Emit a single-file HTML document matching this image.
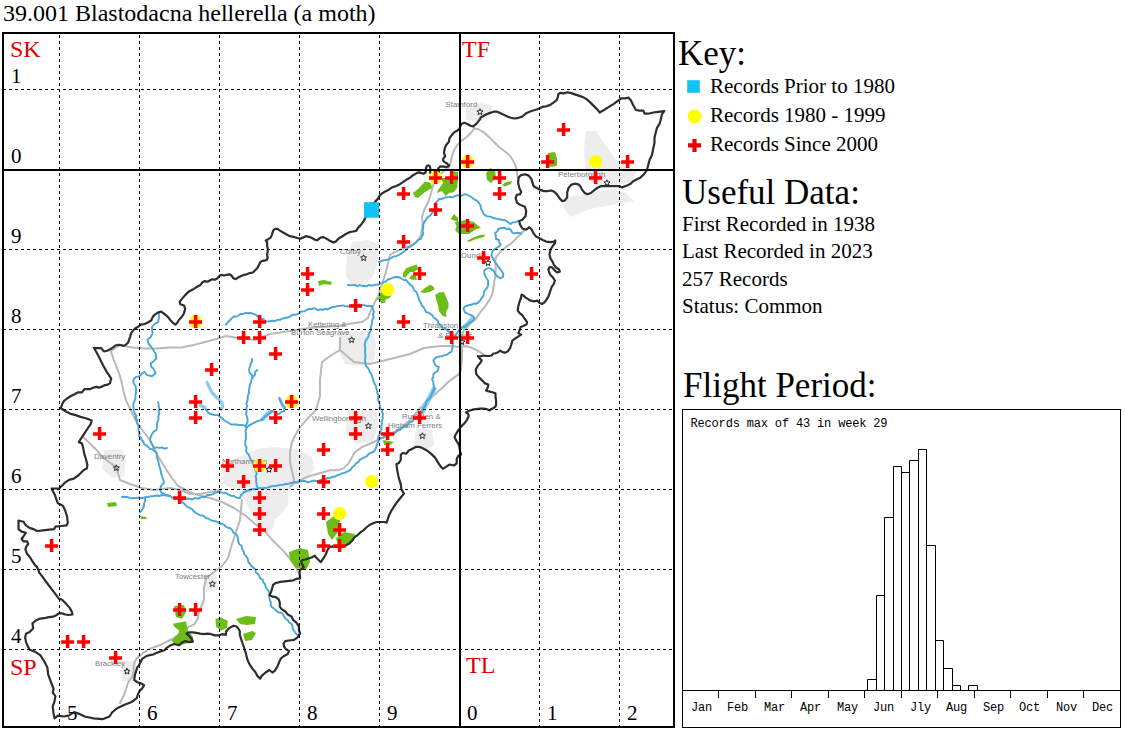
<!DOCTYPE html>
<html><head><meta charset="utf-8"><title>39.001 Blastodacna hellerella</title><style>
html,body{margin:0;padding:0;background:#fff}
body{width:1125px;height:731px;overflow:hidden;position:relative;font-family:"Liberation Serif",serif;color:#000}
.t{position:absolute;white-space:nowrap;line-height:1;margin:0}
.s21{font-size:21px}.s35{font-size:35px}.s24{font-size:24px}
.red{color:#e00000}
.m{font-family:"Liberation Mono",monospace;font-size:12px;letter-spacing:-0.17px;position:absolute;white-space:nowrap;line-height:1}
svg{position:absolute;left:0;top:0}
</style></head><body>
<svg width="1125" height="731" viewBox="0 0 1125 731">
<polygon points="466,108 480,103 492,106 490,116 478,122 466,120" fill="#ededed"/>
<polygon points="586,131 596,131 606,146 616,160 630,165 636,172 632,182 610,186 596,186 586,176 584,150" fill="#ededed"/>
<polygon points="570,197 590,193 614,189 626,193 634,201 622,203 590,209 570,217 562,205" fill="#ededed"/>
<polygon points="352,242 368,240 378,244 378,262 372,278 362,286 352,286 346,276 347,256" fill="#ededed"/>
<polygon points="340,332 372,330 376,344 374,362 360,366 345,364 338,350" fill="#ededed"/>
<polygon points="348,410 376,410 378,428 372,442 356,444 346,432" fill="#ededed"/>
<polygon points="416,428 432,430 434,446 424,450 414,446" fill="#ededed"/>
<polygon points="223.6,471 225,465 234,459 249,453 259.7,448.5 274.8,447 288.3,448.5 300.4,450 312.4,457.6 314,469.6 308,477 294.3,484.7 288.3,492.2 288.3,504.3 282.3,513.3 274.8,519.3 273.2,528.4 267.2,532.9 259.7,531.4 255.2,519.3 247.6,505.8 243.1,498.3 234,489.2 225,484.7 222,478.7" fill="#ededed"/>
<polygon points="104,450 122,449 126,460 124,476 112,478 102,468" fill="#ededed"/>
<polygon points="204,574 216,574 218,590 206,592" fill="#ededed"/>
<polygon points="120,661 136,661 136,681 122,681" fill="#ededed"/>
<polyline points="110.8,351.2 120,345 125,346.3 132.3,347.4 144.6,348.6 156.9,348.6 169.2,347.4 181.5,347.4 193.8,344.9 206.2,341.8 216,339 226,336 238,338 255,340 270,334 290,331 302,329 320,327 338,326 348,324 362,322 368,318" fill="none" stroke="#b9b9b9" stroke-width="2" stroke-linejoin="round" stroke-linecap="round"/>
<polyline points="368,318 370,312 374,304 378,296 382,284 386,272 388.8,260 390,255 393.8,252.5 401.2,249.4 408.5,246.3 413.5,243.8 418.4,240.2 420.8,235.2 422,229 422.7,222.9 422,216.8 424.5,209.4 428.2,202 430.7,194.6 433.2,184.8 436.5,179 440,174 444,171 448.3,167.7 450.2,164 451.4,159.1 452.6,154.2 454.5,149.2 456.9,145.5 461.8,140.6 466.8,137 471.7,132 474.2,128.3" fill="none" stroke="#b9b9b9" stroke-width="2" stroke-linejoin="round" stroke-linecap="round"/>
<polyline points="474.2,128.3 479,129.5 484,132.6 488.9,136.9 493.8,141.8 498.8,146.8 503.7,150.5 508.6,154.2 512.3,159.1 514.8,164 516.6,168.9 517.2,173.8 518,178" fill="none" stroke="#b9b9b9" stroke-width="2" stroke-linejoin="round" stroke-linecap="round"/>
<polyline points="525,229.7 517.5,237.2 510,244.6 507.8,245.5 500.2,252 495.8,257.5 495.2,261.9 495.8,268.4 495.2,276.1 493.6,286 492.5,293.6 489.2,300.2 484.8,306.7 480.5,312.2 475,320 472,322 464,330 461,337 462,344" fill="none" stroke="#b9b9b9" stroke-width="2" stroke-linejoin="round" stroke-linecap="round"/>
<polyline points="340,350 354,362 370,364 390,359 410,354 424,348 440,346 450,346 456.6,346.7 466.4,346.2 471.9,347.8 478.4,351.1 482.8,353.8" fill="none" stroke="#b9b9b9" stroke-width="2" stroke-linejoin="round" stroke-linecap="round"/>
<polyline points="462,346 462,358.8 461,369.7 458.8,374.1 454.4,377.4 450,380.6 442,388 424,404 410,420 398,430 386,436 374,442 362,447 354.6,452.4 348.5,463.5 343.5,468.4 337.4,470.2 330,470.2 324,472 310,476 300,480 290,486" fill="none" stroke="#b9b9b9" stroke-width="2" stroke-linejoin="round" stroke-linecap="round"/>
<polyline points="340,338 340,350 330,356 322,362 320,380 320,396 316,410 306,420 298,430 292,442 290,452 290,462 294,480 292,486" fill="none" stroke="#b9b9b9" stroke-width="2" stroke-linejoin="round" stroke-linecap="round"/>
<polyline points="110.8,351.2 113.8,359.8 116.8,367.3 119.8,375.6 122.1,383.9 123.7,392.3 126.2,400.9 129.9,408.3 136,421.2 142.2,430 150,440 154,448 158,456 164,466 172,478 178,486 182,488 194,494 210,498 222,502 234,508 246,516 255,524 265,531.6 271.6,539.2 278.1,545.8 284.7,552.4 290.2,559 295.6,566.6 298.9,573.1" fill="none" stroke="#b9b9b9" stroke-width="2" stroke-linejoin="round" stroke-linecap="round"/>
<polyline points="82.5,436.6 89.2,442.8 94.2,447.7 97.9,451.4 101.6,456.3 106.5,460 111.4,463.7 116.3,467.4 120,480 130,484 142,488 154,490 170,488 180,490 190,494 200,494 210,492 220,490" fill="none" stroke="#b9b9b9" stroke-width="2" stroke-linejoin="round" stroke-linecap="round"/>
<polyline points="242,500 240,520 236,532 232,544 228,558 222,566 214,572 206,578 204,588 204,600 199,612 197.7,619.4 194,624.3 187.8,627.4 180.4,633 174.3,637.9 166.9,641.6 159.5,645.3 149.6,649 143.5,652.7 137.3,657.6 134.9,661.3 133.6,666.2 133.6,671.1 132.4,676.1 128,683 124,695 120,703" fill="none" stroke="#b9b9b9" stroke-width="2" stroke-linejoin="round" stroke-linecap="round"/>
<polyline points="207,382.5 212.2,393 218,398.7 221.8,402.6 222.8,406.4 220.9,409.3" fill="none" stroke="#8ccbef" stroke-width="3.2" stroke-linejoin="round" stroke-linecap="round"/>
<polyline points="200.5,405.5 205,407.5" fill="none" stroke="#8ccbef" stroke-width="3.5" stroke-linejoin="round" stroke-linecap="round"/>
<polyline points="262.5,419 266,415.5 270,412" fill="none" stroke="#8ccbef" stroke-width="4.5" stroke-linejoin="round" stroke-linecap="round"/>
<polyline points="279.8,399 282,404 284,408.5" fill="none" stroke="#8ccbef" stroke-width="3" stroke-linejoin="round" stroke-linecap="round"/>
<polyline points="434,389 430.5,396 426,404 422.2,412" fill="none" stroke="#8ccbef" stroke-width="5" stroke-linejoin="round" stroke-linecap="round"/>
<polyline points="473,317.5 468,323 462,328" fill="none" stroke="#8ccbef" stroke-width="3.5" stroke-linejoin="round" stroke-linecap="round"/>
<polyline points="379,262 381.4,261 383.8,260.1 386.4,260 388.9,259.2 391.3,258 393.5,256.4 396.2,256.2 398.7,255 401.2,253.7 403.5,251.7 406,250 408.1,247.5 411,246.3 413.5,244.5 415.9,242.6 417.9,240.1 420.8,238.9 421.9,236.4 423.3,234 422.6,230.9 423.3,227.8 423.2,224.6 424.5,221.7 426.2,219.2 428.2,216.8 430.5,215.3 432,213 433,210.8 435,209.4 434.9,206.1 435.7,203 437.5,201.1 439,199 441.3,199.2 443.4,198.1 445.5,197.5 448,197.1 450.5,197 452.9,197.3 455,196 457.5,195.1 460,195.7 462.7,195.4 465,194 469,195.7 471.7,197.3 474,199.4 476.9,200.7 479,203 480.6,205.8 481,209 482.6,211.3 483.7,214 485.9,215.8 488.6,216.6 491.2,216.8 493.5,218 496,218.6 498.5,219 501.5,219.7 504.6,220 506.8,221.2 508.7,222.7 510.8,224 512.6,222.4 515,222.2 519,221" fill="none" stroke="#47a7da" stroke-width="1.9" stroke-linejoin="round" stroke-linecap="round"/>
<polyline points="521,233.5 517.5,232.8 513.7,233.4 511.9,232 510.8,230 509,228.5 506.4,229.1 504.6,227.7 501.5,228 498.5,229 497.3,231.5 495,233 495.9,235.9 496,239 499,240 499.1,242.5 500.7,244.4 499.1,246.4 496.9,247.7 494.6,249.2 492.5,251 492,253.2 491.4,255.3 492.6,257.5 493.6,259.7 495.8,263 498,266.3 499.7,268.4 501.3,270.6 503.4,274 502.9,277.2 500.2,278.3 496.9,276.1 494.7,272.8 493.6,270.6 490.3,268.4 487,268.4 484.3,270.6 484.3,274 485.9,277.2 488.1,280.5 488.1,284.9 487.5,287.3 485.9,289.2 484.3,291.2 483.8,293.6 483.3,296.1 481.6,298 480.3,300.5 478.3,302.4 476.4,303.7 474,303.5 472,304.5 469.8,305 467.6,305.5 465.2,306.3 463.5,308.2 464.8,312.3 467.6,313.5 470.3,315 472.7,315.9 474.4,317.8 473.4,320.1 471.7,321.9 469.2,322.6 467.6,324.6 465.2,326.7 462.1,327.4 459.9,329.3 458,331.5 456.8,333.7 455.3,335.6 453.9,337 452.9,339.6 452.5,342.4 452.8,345.1 452.5,347.9 451.2,352 448.9,353.1 447,354.7 444.3,355.4 441.6,356.1 438.8,356.6 436.1,357.5 433.4,360.2 434.7,364.3 436.4,366.2 438.8,367 437.5,371.2 435.4,372.4 433.4,373.9 433.3,376.8 432,379.4 433.4,381.9 433.4,384.8 434.7,388.9 432.7,391.3 432,394.4 430.6,396.3 429.7,398.4 427.9,400 426.3,401.7 426,404 424.9,405.9 423.7,407.8 422.6,409.7 422.2,412 420.4,414.3 418.2,416.2 416,418 413.6,419 412.4,421.5 409.7,422.1 408,424 406.4,426 403.8,426.7 401.8,428.2 400,430 397.6,430.7 395.7,432.2 394,434 391.3,434.7 388.8,435.8 386,436 383.2,437.6 380,438 378.9,440.3 377.9,442.7 376.8,445 375.6,448.7 374.3,451.1 371.9,452.4 369,453.7 366.9,456.1 364.4,457.3 362,458.5 359.7,459.9 358.2,462.2 355.9,463.5 354.4,465.7 352.2,467.2 350.9,469.6 348.5,470.9 346.5,471.9 344.5,472.9 342.3,473.3 339.3,474.7 336.2,475.8 334.2,476.8 331.9,476.9 330,478.2 327.4,478 325.1,479.6 322.5,479.7 320,480 317.6,481.1 314.9,480.7 312.3,480.7 310,482 307.3,482.2 304.7,480.9 302,481 299.7,481.7 297.3,482.6 294.7,481.8 292.4,482.9 290,483 287.8,484 285.4,484 283.2,484.7 280.9,484.9 278.6,485.2 276.3,485.7 274,486 271.6,486.2 269.4,487 267.1,487.7 264.8,488 262.4,488.3 260,488 257.5,488.5 255,489.2 252.4,489 250,490 247,491 244,492 242.4,493.8 240.7,495.5 240,498 236.8,497.7 234,496 231,495.8 228.5,494.6 226,493 223.3,492.9 220.7,492.2 218,492 215.2,492.6 212.8,494.2 210,495 207.3,495 205.2,497.3 202.3,496.7 200,498 197.5,498.7 194.9,497.9 192.6,499.5 190,499 187.2,498.5 184.6,499.2 182,500 179.5,498.5 176.7,498.5 174,498 171.8,497.5 170,496 167.4,494.9 164.7,495.4 162,495 159.4,496 156.6,495.5 154,496 151.3,496.3 148.7,496.7 146,497 143.6,497.8 141.3,498 138.8,497.5 136.4,497.9 134,498 131.5,498.4 129.2,497.7 126.8,497 124.4,496.8 122,497" fill="none" stroke="#47a7da" stroke-width="1.9" stroke-linejoin="round" stroke-linecap="round"/>
<polyline points="348,285 350.3,285.1 352.7,285.1 355,284.9 357.3,286.3 359.7,285 362,286 364.3,285.9 366.6,286.4 368.8,284.9 371.1,285.5 373.4,285.5 375.7,284.4 378,285 379.9,283.8 382.2,283.3 384,281.9 386.2,281.3 387.7,279.5 390,279 392.6,277.9 395.2,277 398,277 400.7,278 403.1,279.7 406,280 407.9,282.1 409.7,284.3 412,286 413.4,287.9 414,290.2 416.2,291.7 417.1,293.8 418,296 418.7,298.6 419.6,301.1 421.1,303.5 422,306 423.9,307.6 425,309.8 426,312 428.2,312.6 430.2,313.7 432,315 433.7,317.5 436.1,319.2 437.9,320.7 438.3,323.2 440.2,324.6 441.8,327.1 444.3,328.7 446.8,329.5 448.4,331.5 452.5,332.8" fill="none" stroke="#47a7da" stroke-width="1.9" stroke-linejoin="round" stroke-linecap="round"/>
<polyline points="225.8,324.6 227.4,323 228.8,321.2 230.5,319.7 232,318 233.9,316.5 236.5,316.5 238.7,315.5 240.6,314 243.1,314 245.4,312.9 248,313.3 250.4,313 252.7,313.6 255,314.3 257,315.6 258.6,317.6 260.5,319 263.4,319 265,321 267.5,321.6 270,321.2 272.5,320.8 275,321 277.4,319.9 280,319.8 282.4,318.7 284.9,318 287.4,317.5 289.9,316.7 292.1,315 294.7,314.8 297,314.1 299.3,313.3 301,311.5 303.7,311.6 306,310.4 308.3,308.9 311,309 313.4,308.3 315.7,308.7 317.9,310.2 320.3,309.3 322.6,309.8 325,309 327.7,309.3 330,308 332.6,307 335.4,306.7 338,306 340.4,305.9 342.8,305.3 345.2,306.1 347.6,306.6 350,306 352.4,305.2 354.8,305.1 357.2,305.3 359.5,304.4 362,305 364.5,305.2 366.9,306 369.5,306 372,306 372.9,309 374,312 372.9,314.4 373.6,317.1 372.4,319.5 372,322 371.7,324.5 370.8,327 371.1,329.6 370,332 368.6,333.8 368.6,336.3 367.5,338.3 366,340 365.2,342.4 364.7,344.9 365.4,347.5 365,350 365.1,352.5 365.4,355 365.4,357.5 365,360 365.3,363 366,366 367.7,367.7 369,369.7 369.7,372 371.3,373.7 372,376 372.8,378.6 373.5,381.2 374.6,383.7 376,386 376.4,388.4 377.1,390.8 377.3,393.2 378.4,395.5 378,398 378.1,400.6 379.3,402.9 379.8,405.4 380,408 381.6,409.7 382.1,412 383,414 382.6,416.5 382.7,419 381.6,421.4 382,424 381.2,426.4 381.4,429.1 380.5,431.5 380,434 378.3,436.8 378,440" fill="none" stroke="#47a7da" stroke-width="1.9" stroke-linejoin="round" stroke-linecap="round"/>
<polyline points="158.8,312.9 158.9,315.7 158.8,318.5 158.2,322.2 154.5,324 152,327 152.2,330.1 152.6,333.2 150.8,337 147.7,339.4 147.9,342.4 149.5,344.9 151.4,347.3 153.2,349.8 154.4,351.7 155.7,353.5 155.9,356 156.3,358.5 153.2,361.5 150.8,363.4 151.4,367.1 153.4,368.6 154.5,370.8 155.7,373.2 153.8,374.7 152,376.3 149.6,375.5 147.1,375.1 144.6,372 142.2,373.2 139.7,376.3 136,376.9 133.5,379.4 133.4,381.9 134.2,384.3 135.7,386.5 136,389.2 136,392.3 135.4,395.4 135.5,398.6 134.2,401.5 133.3,404.5 133.5,407.7 133.8,410.8 134.8,413.8 136.3,415.6 135.6,418.2 137.2,420 137.1,423.3 138.5,426.2 138.4,428.7 138.6,431.1 139.5,433.5 139,436 140.9,437.6 141.5,440 143.4,441.6 144,444 146.3,445.3 148.3,447 150,449 152.4,449.3 154,450.9 156,452 156.8,454.6 156.8,457.5 158,460 158.6,462.7 159.1,465.4 160,468 160.7,470.7 161.1,473.4 162,476 163.1,479 164,482 162.8,484.2 161,486 160,490 161.4,492.6 164,494 166.7,495.8 170,496" fill="none" stroke="#47a7da" stroke-width="1.9" stroke-linejoin="round" stroke-linecap="round"/>
<polyline points="158.2,402.2 158.6,404.4 158.7,406.7 159.4,408.9 158.7,411.3 159.2,413.9 158.2,416.3 158.6,418.9 157.5,421.3 156.9,423.7 157,426.9 156.3,430 153.8,431.6 152,434 150.7,436.9 150,440 150.8,442.1 151.9,444 152.8,446.1 154,448 156.6,447.4 159.2,447.9 161.8,447.4 164.4,448.7 167,448" fill="none" stroke="#47a7da" stroke-width="1.9" stroke-linejoin="round" stroke-linecap="round"/>
<polyline points="205.5,409.3 207.3,411 208.4,413.1 212.2,414.5 215.1,415.1 218,415 220.4,417 223.7,419.8 225.9,421.5 228.5,422.7 230.7,424.2 233.3,424.6 236.2,424.3 239,425.1 241.9,424.9 244.8,425.6 246.7,427.5" fill="none" stroke="#47a7da" stroke-width="1.9" stroke-linejoin="round" stroke-linecap="round"/>
<polyline points="252,359 252.1,361.4 250.6,363.3 250.4,365.6 249.5,367.7 249.1,370 249.6,372.7 251.7,374.6 252.5,377.2 251.5,379.6 251.3,382.2 249.8,384.6 249.6,387.2 248.9,389.7 249,392.4 248.2,394.9 247.6,397.1 247.7,399.4 247.2,401.6 246.4,403.8 247.2,406.2 246.2,408.3 246.8,410.8 245.9,413.5 246.7,416 247.4,418.8 247.7,421.7 245.8,425.6 246.3,428.4 245.4,431.2 246,434 245.6,436.2 246.2,438.4 245.4,440.6 245.3,442.8 245.4,445.3 246.6,447.7 246.1,450.3 246.7,452.7 248.7,454.7 249.8,457.3 251,459.8 253,461.8 254.2,464.3 255.2,467 254.9,469.5 256.3,471.6 256.6,474 255.6,476.3 256.3,478.7 256,481 256.5,483.4 256.7,485.8 258,488" fill="none" stroke="#47a7da" stroke-width="1.9" stroke-linejoin="round" stroke-linecap="round"/>
<polyline points="257.3,370 255,372 254.8,375.3 252.5,377.2" fill="none" stroke="#47a7da" stroke-width="1.9" stroke-linejoin="round" stroke-linecap="round"/>
<polyline points="246.7,427.5 248.5,425.9 250.6,424.6 253.4,423.1 256.3,421.7 259.1,420.6 262,419.8 263.6,418.1 265.2,416.5 267,415 269.7,413.2 272,411 274.6,411.7 276.8,413.3 279.3,414.1 281.3,411.9 284.1,411.2 285,407.4 282.8,405.2 281.2,402.6 280,400.3 279.3,397.8" fill="none" stroke="#47a7da" stroke-width="1.9" stroke-linejoin="round" stroke-linecap="round"/>
<polyline points="182,502 184,503.5 185.7,505.4 187.5,507.1 190,508 192.2,509.2 193.7,511.4 195.8,512.8 198,514 199.9,515.2 202.3,515.4 204.4,516.3 206,518 208.7,518.8 211.2,520.4 214,521 216.8,521.6 219.3,523 222,524 224.1,524.7 225.7,526.5 227.7,527.7 230,528 232.1,529.9 233.4,532.6 236,534 237.7,536.8 238,540 238.5,542.2 239.4,544.3 241.5,545.7 242,548 242.7,550.2 243.9,552 244.3,554.3 246,556 247.4,557.8 247.9,560 248.4,562.3 250,564 251.4,566.1 253.5,567.8 255.4,569.6 255.8,572.5 258,574 259.4,576 260.1,578.5 262.7,579.7 263.2,582.3 265,584 265.6,586.4 266.6,588.7 268.3,590.6 269.7,593.2 269.4,596.1 269.3,598 269.9,600.4 270.9,602.8 270.6,605.4 271.9,607.3 274,608.5 275.5,610.3 278.3,612.3 281.6,612.8 283,614.5 284.1,616.5 285.6,618.7 287.8,620.2 289.2,622.5 291.5,623.9 292.5,626.2 292.7,628.8 293.9,630.7 295.2,632.5 296.6,634.4 298.9,634.9" fill="none" stroke="#47a7da" stroke-width="1.9" stroke-linejoin="round" stroke-linecap="round"/>
<polyline points="145,498 145.2,500.7 144.1,503.3 144,506 142.9,508.2 141.8,510.3 140,512" fill="none" stroke="#47a7da" stroke-width="1.9" stroke-linejoin="round" stroke-linecap="round"/>
<polygon points="413,193 418,189 425,181.5 431,183 432,188 425,192 418,198 415,197" fill="#6cbd17"/>
<polygon points="441,178 443,183 438,190 437,193 442,191 445.5,196 449,193 454,192 457,188 458,180 458,172 454,171 450,178" fill="#6cbd17"/>
<polygon points="486,173.5 490,168 495,170 496,178 491,183 487,180" fill="#6cbd17"/>
<polygon points="502,185 506,182 512,181 511,184 505,186.5" fill="#6cbd17"/>
<polygon points="450.5,219 454,214 458,218 458,224 455,230 459,234 469,234 476,229 481,228 476,224 470,221.5 463,224" fill="#6cbd17"/>
<polygon points="467,241 472,238 480,235 485,234.5 484,237 476,239 469,242" fill="#6cbd17"/>
<polygon points="548,153 555,152 557,158 557,166 550,167 546,160" fill="#6cbd17"/>
<polygon points="402.6,276.8 403.5,272 406.4,268.2 411.2,266.3 416.9,264.4 417.9,269.2 414.1,272 410.2,272 407.4,274.9 405.4,277.8" fill="#6cbd17"/>
<polygon points="409.3,278.7 411.2,274.9 416,275.9 416.9,279.7 412.1,279.7" fill="#6cbd17"/>
<polygon points="318,281 324,280 332,282 331,285 324,284 319,286" fill="#6cbd17"/>
<polygon points="379.6,293.1 383.4,291.2 389.2,296 392,295 389.2,297.9 385.3,299.8 385.3,302.7 381.5,303.6 379.6,299.8 376.7,299.8 379.6,296" fill="#6cbd17"/>
<polygon points="420.3,292.1 424.6,288.3 430.3,284.5 433.2,286.4 434.7,289.3 429.4,292.1 423.6,293.1" fill="#6cbd17"/>
<polygon points="435.1,295 439,292.6 443.8,292.1 445.7,296 448.5,302.7 448.5,307.5 445.7,312.3 446.6,317 442.8,316.1 439,311.3 438,305.6 436.1,298.9" fill="#6cbd17"/>
<polygon points="455,222 465,220 474,222 479,228 470,232 458,231" fill="#6cbd17"/>
<polygon points="383,440 389,441 394,442 390,445 384,445" fill="#6cbd17"/>
<polygon points="107,503 116,502 117,506 108,507" fill="#6cbd17"/>
<polygon points="140,516 146,517 147,519 141,519" fill="#6cbd17"/>
<polygon points="174,606 184,605 186,612 182,619 176,617" fill="#6cbd17"/>
<polygon points="173,623.7 186,621.2 187.8,630.5 192.8,636.6 193.4,641.6 189,642.8 180.4,645.3 174.3,644 171.8,640.3 178,634.2 179.2,630.5 174.3,626.8" fill="#6cbd17"/>
<polygon points="215.5,619 221,617.5 227.9,621 227,628 221,630.5 216,627" fill="#6cbd17"/>
<polygon points="236,619 246,616 256,617 255,624 247,625 240,624" fill="#6cbd17"/>
<polygon points="243,634 252,631 256,633 252,640 245,641" fill="#6cbd17"/>
<polygon points="326,522 334,516 340,520 338,532 332,540 328,534" fill="#6cbd17"/>
<polygon points="336,538 344,532 355,534 352,542 344,546 338,546" fill="#6cbd17"/>
<polygon points="289,552 300,548 308,550 310,562 306,570 296,568 290,560" fill="#6cbd17"/>
<path d="M93.9,347.8 L97.3,348.2 L101.4,348.2 L102.6,350 L104.1,351.5 L107.1,350.8 L110.1,349.3 L113.1,347.4 L115.3,345.5 L118.3,344.8 L121.4,345.2 L123.6,345.9 L125.9,344.8 L128.1,342.5 L129.2,339.5 L130.3,336.3 L131.1,333.2 L132.9,330.8 L135.4,328.3 L138.5,326.5 L140.9,324.6 L144.6,324 L148.3,322.2 L151.4,320.3 L152.6,317.2 L154.5,314.8 L158.2,312.3 L161.2,311.7 L163.7,313.5 L166.2,315.4 L168.6,317.8 L170.5,320.3 L172.9,322.8 L175.4,324.6 L177.2,322.8 L179.1,319.7 L181.5,317.2 L184,313.5 L185.2,308.6 L184,305.5 L180.3,304.3 L179.7,301.8 L181.5,299.4 L185.2,295.1 L188.9,291.4 L193.8,288.9 L198.8,285.8 L200,285.4 L202.5,282.3 L204.9,281.1 L207.4,281.7 L209.8,280.5 L212.3,279.2 L214.8,279.8 L217.2,278.6 L219.1,276.2 L220.9,274.9 L224,275.5 L226.5,274.9 L229.5,274.3 L231.4,275.5 L233.2,278 L235.7,279.2 L238.2,277.4 L240.6,276.2 L243.7,274.9 L246.8,274.3 L249.8,273.1 L252.9,272.5 L255.4,270 L257.8,267.5 L259.1,264.5 L260.3,262 L262.8,260.8 L266.5,260.2 L267.7,257.7 L267.1,254.6 L267.7,251.5 L267.7,248.5 L267.1,245.4 L267.1,242.3 L265.8,240.5 L268.3,239.2 L270.8,237.4 L272,234.3 L273.2,230.6 L275.1,228.8 L277.5,228.8 L280,230.6 L283.1,232.5 L286.2,234.3 L289.8,236.2 L293.5,236.8 L297.2,238 L300.3,238.6 L303.4,237.4 L305.8,236.2 L308.9,236.8 L312,238 L315.1,239.8 L317.5,240.2 L320.5,237.7 L323.6,237.1 L326.7,238.9 L329.8,240.8 L333.5,242.6 L335.9,241.4 L339,238.3 L342.1,236.5 L345.8,234 L349.5,232.2 L353.2,231.5 L356.2,230.9 L358.1,227.8 L360.5,225.4 L362.4,222.9 L364.2,220.5 L364.8,218.6 L370,210 L375.3,201.4 L377.8,198.9 L379.6,195.8 L382.1,193.4 L385.2,191.5 L388.8,189.7 L392.5,187.2 L396.2,186 L399.9,184.2 L403.6,181.7 L407.3,179.2 L410.4,177.4 L413.5,174.9 L415,174.2 L417.1,172.8 L419.3,172.4 L421.4,173.1 L423.5,173.8 L425.3,172.8 L426,170.6 L426,167.8 L427.1,165.7 L428.5,165.3 L429.9,166.4 L430.3,168.5 L429.9,170.6 L430.3,172.8 L431,174 L435,174.5 L439,173 L438.8,171 L438.1,168.5 L439.9,166.7 L442.7,166.4 L445.6,167.1 L448.4,166.4 L449.1,165.3 L447,163.5 L444.5,162.1 L443.1,160.3 L443.4,158.2 L445.2,156.4 L444,152.9 L444.6,149.2 L445.8,145.5 L448.9,141.8 L449.5,138.2 L451.4,135.7 L453.8,132.6 L456.9,130.8 L459.4,128.9 L461.2,124 L464.3,122.8 L467.4,124 L470.5,125.8 L472.9,126.5 L475.4,124.6 L477.8,122.2 L479.7,119.7 L480.9,117.2 L483.4,116 L486.5,114.2 L490.2,112.9 L493.8,111.7 L496.9,111.7 L500,112.9 L503.7,114.8 L507.4,116.6 L511.1,117.8 L514.8,118.5 L518.5,117.8 L522.2,116.6 L525.8,113.5 L529.5,111.7 L533.2,110.5 L535,110 L538.7,108.8 L542.4,106.9 L546.1,106.3 L549.8,105.1 L553.5,102.6 L556.6,100.2 L557.8,97.1 L558.4,94 L560.2,92.8 L563.9,93.4 L567.6,92.2 L572,93.4 L575.6,94.6 L579.3,95.9 L583,97.1 L586.1,98.9 L589.2,101.4 L591.7,103.9 L594.7,106.9 L597.2,109.4 L599.7,112.5 L604,110 L608.9,106.9 L613.8,103.9 L618.8,100.2 L621.2,98.3 L624.9,98.3 L628.6,97.7 L631.1,100.8 L633.5,105.7 L636,110 L639.7,110.6 L643.4,110.6 L644.6,113.7 L648.3,113.7 L653.2,112.5 L658.2,111.9 L664.3,111.2 L661.9,114.3 L660.6,120.5 L659.4,124.2 L656.9,127.9 L655.7,132.8 L654.5,137.7 L654.5,142.7 L653.2,148.8 L652,155 L649.5,159.9 L648.3,164.8 L647.1,169.8 L644.4,173.7 L640.7,177.4 L636.9,179.3 L633.2,181.2 L630.7,183.7 L627,185.5 L622,187.4 L619.5,186.2 L615.8,186.2 L612,186.2 L608.3,186.2 L604.6,186.2 L600.8,186.2 L597.1,188 L594.6,189.9 L590.9,193 L587.2,194.2 L584.7,193 L582.2,189.9 L580.3,186.2 L578.4,184.3 L574.7,183.7 L571,184.9 L568.5,188 L567.2,192.4 L567.2,197.4 L564.8,200.5 L562.3,201.1 L559.8,198.6 L557.3,194.9 L554.2,191.8 L551.1,190.5 L547.3,191.1 L543.6,191.1 L540.5,189.9 L536.8,188 L533.6,186.2 L532.4,182.4 L531.2,178.7 L528.7,175.6 L524.9,174.3 L521.2,175 L518.7,177.4 L518.1,182.4 L519.3,188 L521.2,191.8 L520,194.2 L516.8,194.9 L515.6,198 L516.8,202.3 L520,204.8 L524.9,206.7 L526.2,211 L525.6,216 L522.4,219.8 L519.3,221 L520,224.7 L522.4,228.5 L526.2,229.7 L529.3,227.2 L531.8,229.7 L533.6,233.4 L536.1,236.6 L539.9,238.4 L542.8,240 L546.1,241.6 L550.5,242.2 L553.8,241.6 L555.4,240.5 L554.9,243.3 L552.7,246 L550.5,249.8 L549.4,254.2 L550.5,258.6 L552.7,261.9 L553.8,264.6 L556,267.5 L559.2,269.5 L559.8,271.7 L557,272.3 L554.9,270.6 L551.6,267 L549.4,267.4 L548.3,269.5 L549.4,272.8 L550.5,275 L552.7,277.2 L554.9,280.5 L553.8,283.8 L551.6,287 L550.5,290.3 L549.4,293.6 L548.3,296.9 L546.1,300.2 L543.9,302.9 L541.7,304 L539.6,302.9 L537.4,300.7 L534.1,301.3 L530.8,300.7 L528.1,299.1 L525.3,297.4 L523.1,295.3 L521.5,294.7 L521,298 L519.3,302.4 L518.2,306.7 L517.7,310.6 L519.9,313.3 L522.2,315 L524.4,318.3 L527.1,322.1 L526.6,324.3 L523.3,325.9 L520.6,327 L519.5,330.3 L518.4,333.1 L521.1,334.7 L517.8,336.9 L515.1,338.5 L512.4,340.7 L511.3,344.5 L510.2,347.8 L508,351.1 L505.3,352.7 L502.5,352.2 L500.3,350.6 L498.1,352.2 L495.4,353.3 L493.2,353.8 L491.6,355.5 L488.8,356 L486.1,356 L483.9,355.5 L481.7,356 L479,356.6 L477.9,356 L479.5,358.2 L481.7,360.4 L480.1,363.1 L477.4,366.4 L475.7,369.7 L476.3,374.1 L479,377.4 L482.3,380.6 L485,383.4 L488.3,384.5 L487.7,387.8 L486.1,390.5 L487.9,391.1 L492.3,392.2 L495.5,393.3 L495.5,396.6 L496.1,401 L496.1,405.3 L494.5,407.5 L491.2,409.2 L489.5,410.3 L486.8,409.2 L483.5,408.6 L480.2,408.6 L475.8,409.2 L472.6,409.7 L469.3,410.8 L466,412.4 L468.2,414.1 L468.7,416.3 L467.1,419.6 L464.9,422.8 L461.6,426.1 L458.9,429.4 L456.1,433.8 L454.5,437.1 L456.1,440.4 L458.3,443.7 L459.4,446.9 L460,451.3 L461.1,454.6 L458.3,455.7 L456.7,459 L456.7,463.4 L453.9,465.5 L449.6,464.5 L446.3,466.6 L443,468.8 L440.8,466.6 L438.6,463.4 L435.3,457.9 L432,454.6 L428.8,451.9 L425.5,449.7 L422.2,448 L420,447 L416.2,446.8 L412.5,448.7 L408.8,450.5 L406.3,453.6 L402.6,453 L400.8,454.8 L400.8,459.8 L399,462.9 L396.5,464.1 L397.1,469.6 L398.3,475.8 L399.6,480.7 L400.8,484.4 L401.4,489.3 L403.9,493.6 L401.4,496.7 L398.9,499.8 L396.5,502.9 L394,506.6 L391.6,510.3 L389.1,515.2 L387.9,518.9 L386.6,522.6 L384.2,522 L380.5,522 L376.8,522 L373.1,523.2 L369.4,525 L366.3,527.5 L363.2,530.6 L361.3,531.6 L358,534.8 L354.7,537 L352.5,540.3 L349.2,543.6 L346,545.2 L341.6,546.9 L337.2,546.9 L332.8,546.3 L329.6,546.9 L327.4,550.2 L325.7,554.5 L323,558.9 L320.8,562.2 L318.6,560 L316.4,557.8 L314.8,555.6 L312,557.3 L308.8,558.4 L305.5,559.5 L302.7,560 L301.1,561.1 L302.2,564.4 L303.8,567.1 L302.2,568.8 L300,569.9 L299.5,573.1 L300,576.4 L300,578.6 L297.3,578.6 L293.4,580.3 L289.1,580.8 L284.7,581.3 L280.3,581.9 L275.9,583 L273.2,584.6 L272.1,588.5 L271,592.3 L269.4,595 L272.7,596.7 L275.9,597.2 L278.7,599.4 L279.8,602.7 L279.8,606.6 L281.6,609.1 L285.3,611.5 L287.8,614.6 L291.5,616.5 L293.3,620.2 L296.4,622.6 L298.9,626.3 L298.9,630 L300.1,633.1 L297.6,637.4 L294,639.9 L289,640.5 L285.3,641.1 L283.5,643.6 L284.1,646.6 L285.9,649.1 L289,650.9 L287.8,654 L284.1,655.9 L281,658.3 L279.2,662 L277.3,666.9 L274.9,670.6 L272.4,672.5 L269.3,670 L265.6,672.5 L261.9,675.6 L260.1,678.6 L257.6,676.2 L255.2,671.9 L252.1,668.2 L249,663.3 L247.2,659 L245.9,653.4 L244.7,649.7 L243.5,646 L242.2,642.3 L241,638.6 L239.8,634.9 L239.8,631.2 L238.5,628.8 L236.1,626.3 L233.6,625.7 L231.2,626.9 L228.5,628.6 L226,631.7 L226,634.8 L222.3,634.2 L218.6,635.4 L214.9,635.4 L211.2,634.2 L207.5,633.6 L203.8,634.2 L200.1,633.6 L196.4,632.9 L192.8,632.3 L189.1,632.3 L186.6,633.6 L189.1,636 L191.5,638.5 L192.8,641.6 L189.1,642.2 L185.4,641 L181.7,642.8 L179.2,645.3 L174.3,644 L170.6,645.3 L166.9,647.7 L164.4,650.2 L160.7,651.4 L157,652.7 L153.3,654.5 L149.6,655.1 L145.9,656.3 L142.2,658.8 L141,661.3 L139.2,665 L137.3,667.4 L136.1,671.1 L134.9,674.8 L134.2,679.8 L137.3,682.2 L141,683.4 L144.1,685.3 L142.2,688.4 L139.8,690.8 L137.9,694.5 L136.7,698.2 L133.6,700.7 L131,702.3 L123.9,705 L116.7,708.5 L112,712.5 L109.6,716.5 L102.5,719.2 L93.6,718.3 L84.7,716.5 L79.4,713.9 L74,712.1 L68.7,715.6 L63.4,716.5 L58,715.6 L54.5,718.3 L53.6,713.9 L52.7,706.7 L54.5,701.4 L55.4,696.1 L52.7,692.5 L53.6,689 L50.9,681.8 L48.2,674.7 L47.4,667.6 L43.8,660.5 L40.2,655.2 L34.9,651.6 L29.6,649.8 L27.8,646.3 L26,641.8 L25.1,637.4 L26,633.8 L29.6,632 L33.1,628.5 L32.5,623.3 L35.8,620.5 L39.1,618.9 L42.4,618.3 L45.6,617.8 L48.9,617.2 L53.3,616.7 L56.6,615 L58.8,613.4 L62.1,613.4 L65.3,614.5 L68.6,615 L72.5,614.5 L71.9,611.8 L69.7,607.9 L66.4,604.1 L62.1,599.7 L58.8,598.6 L55.5,594.2 L52.2,589.9 L48.9,585.5 L45.6,581.1 L42.4,576.7 L39.1,572.4 L38.5,570.2 L36.9,566.9 L34.7,564.7 L32.5,561.4 L29.8,557 L27,553.8 L25.4,549.4 L26,547 L28.3,543.9 L27.1,541.4 L23.4,541.4 L21.6,539 L23.4,536.5 L25.9,532.8 L21.6,531.6 L18.5,529.1 L18.5,524.2 L18.5,520.5 L23.4,521.7 L25.9,525.4 L29.6,527.9 L33.3,529.1 L37,531 L43.1,530.4 L49.3,529.7 L54.2,529.1 L55.4,526.7 L61.6,526 L66.5,525.4 L67.8,523 L67.1,516.8 L65.3,510.7 L62.8,505.7 L57.9,503.3 L56,498.3 L54.8,494.6 L53,491.6 L51.7,488.5 L55.4,488.5 L59.1,488.5 L61.6,486 L65.3,482.3 L69,479.9 L73.9,478.6 L78.8,475 L83.8,470 L86.8,468.6 L87.4,465 L86.2,460 L84.3,453.9 L83.1,447.7 L81.9,443.4 L78.8,442.2 L80.6,439.1 L83.1,435.4 L85.6,431.7 L88,428 L90.5,424.3 L91.7,420.6 L89.2,419.4 L85.6,418.2 L80.6,416.9 L75.7,415.1 L70.8,413.9 L67.1,412 L64,410.2 L60.9,408.3 L62.2,404 L64,400.9 L67.1,398.5 L70.8,396 L74.5,394.2 L78.2,392.3 L81.9,392.3 L84.5,389.1 L87.5,389.1 L90.5,389.1 L93.5,387.6 L96.5,386.9 L98.8,387.6 L101.1,386.9 L104.1,385.4 L107.8,384.6 L110.1,383.1 L110.5,380.9 L111.2,378.6 L109.3,375.6 L106.3,371.1 L103.3,365.8 L100.3,359.8 L97.3,353.8 L93.9,347.8Z" fill="none" stroke="#2e2e2e" stroke-width="2.2" stroke-linejoin="round"/>
<text x="445.6" y="107" font-family="Liberation Sans" font-size="7.8" fill="#7c7c7c">Stamford</text>
<text x="558" y="177" font-family="Liberation Sans" font-size="7.8" fill="#7c7c7c">Peterborough</text>
<text x="461" y="258" font-family="Liberation Sans" font-size="7.8" fill="#7c7c7c">Oundle</text>
<text x="340" y="254" font-family="Liberation Sans" font-size="7.8" fill="#7c7c7c">Corby</text>
<text x="308" y="327" font-family="Liberation Sans" font-size="7.8" fill="#7c7c7c">Kettering &</text>
<text x="291" y="335" font-family="Liberation Sans" font-size="7.8" fill="#7c7c7c">Burton Seagrave</text>
<text x="423" y="328" font-family="Liberation Sans" font-size="7.8" fill="#7c7c7c">Thrapston</text>
<text x="438" y="338" font-family="Liberation Sans" font-size="7.8" fill="#7c7c7c">& Raunds</text>
<text x="312" y="421" font-family="Liberation Sans" font-size="7.8" fill="#7c7c7c">Wellingborough</text>
<text x="402" y="419" font-family="Liberation Sans" font-size="7.8" fill="#7c7c7c">Rushden &</text>
<text x="388" y="428" font-family="Liberation Sans" font-size="7.8" fill="#7c7c7c">Higham Ferrers</text>
<text x="94" y="459" font-family="Liberation Sans" font-size="7.8" fill="#7c7c7c">Daventry</text>
<text x="222" y="464" font-family="Liberation Sans" font-size="7.8" fill="#7c7c7c">Northampton</text>
<text x="175" y="579" font-family="Liberation Sans" font-size="7.8" fill="#7c7c7c">Towcester</text>
<text x="95" y="666" font-family="Liberation Sans" font-size="7.8" fill="#7c7c7c">Brackley</text>
<polygon points="480.00,108.80 480.85,110.84 483.04,111.01 481.37,112.44 481.88,114.59 480.00,113.44 478.12,114.59 478.63,112.44 476.96,111.01 479.15,110.84" fill="none" stroke="#222" stroke-width="1"/>
<polygon points="607.00,179.80 607.85,181.84 610.04,182.01 608.37,183.44 608.88,185.59 607.00,184.44 605.12,185.59 605.63,183.44 603.96,182.01 606.15,181.84" fill="none" stroke="#222" stroke-width="1"/>
<polygon points="488.00,259.80 488.85,261.84 491.04,262.01 489.37,263.44 489.88,265.59 488.00,264.44 486.12,265.59 486.63,263.44 484.96,262.01 487.15,261.84" fill="none" stroke="#222" stroke-width="1"/>
<polygon points="363.60,254.80 364.45,256.84 366.64,257.01 364.97,258.44 365.48,260.59 363.60,259.44 361.72,260.59 362.23,258.44 360.56,257.01 362.75,256.84" fill="none" stroke="#222" stroke-width="1"/>
<polygon points="351.60,336.80 352.45,338.84 354.64,339.01 352.97,340.44 353.48,342.59 351.60,341.44 349.72,342.59 350.23,340.44 348.56,339.01 350.75,338.84" fill="none" stroke="#222" stroke-width="1"/>
<polygon points="462.00,338.80 462.85,340.84 465.04,341.01 463.37,342.44 463.88,344.59 462.00,343.44 460.12,344.59 460.63,342.44 458.96,341.01 461.15,340.84" fill="none" stroke="#222" stroke-width="1"/>
<polygon points="368.40,422.80 369.25,424.84 371.44,425.01 369.77,426.44 370.28,428.59 368.40,427.44 366.52,428.59 367.03,426.44 365.36,425.01 367.55,424.84" fill="none" stroke="#222" stroke-width="1"/>
<polygon points="422.40,432.80 423.25,434.84 425.44,435.01 423.77,436.44 424.28,438.59 422.40,437.44 420.52,438.59 421.03,436.44 419.36,435.01 421.55,434.84" fill="none" stroke="#222" stroke-width="1"/>
<polygon points="269.00,466.40 269.85,468.44 272.04,468.61 270.37,470.04 270.88,472.19 269.00,471.04 267.12,472.19 267.63,470.04 265.96,468.61 268.15,468.44" fill="none" stroke="#222" stroke-width="1"/>
<polygon points="116.40,464.80 117.25,466.84 119.44,467.01 117.77,468.44 118.28,470.59 116.40,469.44 114.52,470.59 115.03,468.44 113.36,467.01 115.55,466.84" fill="none" stroke="#222" stroke-width="1"/>
<polygon points="212.40,580.80 213.25,582.84 215.44,583.01 213.77,584.44 214.28,586.59 212.40,585.44 210.52,586.59 211.03,584.44 209.36,583.01 211.55,582.84" fill="none" stroke="#222" stroke-width="1"/>
<polygon points="127.00,668.20 127.85,670.24 130.04,670.41 128.37,671.84 128.88,673.99 127.00,672.84 125.12,673.99 125.63,671.84 123.96,670.41 126.15,670.24" fill="none" stroke="#222" stroke-width="1"/>
<circle cx="467.6" cy="161.6" r="6.6" fill="#ffff00"/>
<circle cx="435.6" cy="177.6" r="6.6" fill="#ffff00"/>
<circle cx="595.6" cy="161.6" r="6.6" fill="#ffff00"/>
<circle cx="387.6" cy="289.6" r="6.6" fill="#ffff00"/>
<circle cx="195.6" cy="321.6" r="6.6" fill="#ffff00"/>
<circle cx="291.6" cy="401.6" r="6.6" fill="#ffff00"/>
<circle cx="259.6" cy="465.6" r="6.6" fill="#ffff00"/>
<circle cx="371.6" cy="481.6" r="6.6" fill="#ffff00"/>
<circle cx="339.6" cy="513.6" r="6.6" fill="#ffff00"/>
<rect x="364" y="202.2" width="15" height="15.5" fill="#12c2f2"/>
<path d="M557.1,128.15h13v3.5h-13zM561.85,123.1h3.5v13h-3.5z" fill="#ff0000"/>
<path d="M541.1,160.15h13v3.5h-13zM545.85,155.1h3.5v13h-3.5z" fill="#ff0000"/>
<path d="M621.1,160.15h13v3.5h-13zM625.85,155.1h3.5v13h-3.5z" fill="#ff0000"/>
<path d="M461.1,160.15h13v3.5h-13zM465.85,155.1h3.5v13h-3.5z" fill="#ff0000"/>
<path d="M429.1,176.15h13v3.5h-13zM433.85,171.1h3.5v13h-3.5z" fill="#ff0000"/>
<path d="M445.1,176.15h13v3.5h-13zM449.85,171.1h3.5v13h-3.5z" fill="#ff0000"/>
<path d="M493.1,176.15h13v3.5h-13zM497.85,171.1h3.5v13h-3.5z" fill="#ff0000"/>
<path d="M589.1,176.15h13v3.5h-13zM593.85,171.1h3.5v13h-3.5z" fill="#ff0000"/>
<path d="M397.1,192.15h13v3.5h-13zM401.85,187.1h3.5v13h-3.5z" fill="#ff0000"/>
<path d="M493.1,192.15h13v3.5h-13zM497.85,187.1h3.5v13h-3.5z" fill="#ff0000"/>
<path d="M429.1,208.15h13v3.5h-13zM433.85,203.1h3.5v13h-3.5z" fill="#ff0000"/>
<path d="M461.1,224.15h13v3.5h-13zM465.85,219.1h3.5v13h-3.5z" fill="#ff0000"/>
<path d="M397.1,240.15h13v3.5h-13zM401.85,235.1h3.5v13h-3.5z" fill="#ff0000"/>
<path d="M477.1,256.15h13v3.5h-13zM481.85,251.1h3.5v13h-3.5z" fill="#ff0000"/>
<path d="M301.1,272.15h13v3.5h-13zM305.85,267.1h3.5v13h-3.5z" fill="#ff0000"/>
<path d="M413.1,272.15h13v3.5h-13zM417.85,267.1h3.5v13h-3.5z" fill="#ff0000"/>
<path d="M525.1,272.15h13v3.5h-13zM529.85,267.1h3.5v13h-3.5z" fill="#ff0000"/>
<path d="M301.1,288.15h13v3.5h-13zM305.85,283.1h3.5v13h-3.5z" fill="#ff0000"/>
<path d="M349.1,304.15h13v3.5h-13zM353.85,299.1h3.5v13h-3.5z" fill="#ff0000"/>
<path d="M189.1,320.15h13v3.5h-13zM193.85,315.1h3.5v13h-3.5z" fill="#ff0000"/>
<path d="M253.1,320.15h13v3.5h-13zM257.85,315.1h3.5v13h-3.5z" fill="#ff0000"/>
<path d="M397.1,320.15h13v3.5h-13zM401.85,315.1h3.5v13h-3.5z" fill="#ff0000"/>
<path d="M237.1,336.15h13v3.5h-13zM241.85,331.1h3.5v13h-3.5z" fill="#ff0000"/>
<path d="M253.1,336.15h13v3.5h-13zM257.85,331.1h3.5v13h-3.5z" fill="#ff0000"/>
<path d="M445.1,336.15h13v3.5h-13zM449.85,331.1h3.5v13h-3.5z" fill="#ff0000"/>
<path d="M461.1,336.15h13v3.5h-13zM465.85,331.1h3.5v13h-3.5z" fill="#ff0000"/>
<path d="M269.1,352.15h13v3.5h-13zM273.85,347.1h3.5v13h-3.5z" fill="#ff0000"/>
<path d="M205.1,368.15h13v3.5h-13zM209.85,363.1h3.5v13h-3.5z" fill="#ff0000"/>
<path d="M189.1,400.15h13v3.5h-13zM193.85,395.1h3.5v13h-3.5z" fill="#ff0000"/>
<path d="M285.1,400.15h13v3.5h-13zM289.85,395.1h3.5v13h-3.5z" fill="#ff0000"/>
<path d="M189.1,416.15h13v3.5h-13zM193.85,411.1h3.5v13h-3.5z" fill="#ff0000"/>
<path d="M269.1,416.15h13v3.5h-13zM273.85,411.1h3.5v13h-3.5z" fill="#ff0000"/>
<path d="M349.1,416.15h13v3.5h-13zM353.85,411.1h3.5v13h-3.5z" fill="#ff0000"/>
<path d="M413.1,416.15h13v3.5h-13zM417.85,411.1h3.5v13h-3.5z" fill="#ff0000"/>
<path d="M93.1,432.15h13v3.5h-13zM97.85,427.1h3.5v13h-3.5z" fill="#ff0000"/>
<path d="M349.1,432.15h13v3.5h-13zM353.85,427.1h3.5v13h-3.5z" fill="#ff0000"/>
<path d="M381.1,432.15h13v3.5h-13zM385.85,427.1h3.5v13h-3.5z" fill="#ff0000"/>
<path d="M317.1,448.15h13v3.5h-13zM321.85,443.1h3.5v13h-3.5z" fill="#ff0000"/>
<path d="M381.1,448.15h13v3.5h-13zM385.85,443.1h3.5v13h-3.5z" fill="#ff0000"/>
<path d="M221.1,464.15h13v3.5h-13zM225.85,459.1h3.5v13h-3.5z" fill="#ff0000"/>
<path d="M253.1,464.15h13v3.5h-13zM257.85,459.1h3.5v13h-3.5z" fill="#ff0000"/>
<path d="M269.1,464.15h13v3.5h-13zM273.85,459.1h3.5v13h-3.5z" fill="#ff0000"/>
<path d="M237.1,480.15h13v3.5h-13zM241.85,475.1h3.5v13h-3.5z" fill="#ff0000"/>
<path d="M317.1,480.15h13v3.5h-13zM321.85,475.1h3.5v13h-3.5z" fill="#ff0000"/>
<path d="M173.1,496.15h13v3.5h-13zM177.85,491.1h3.5v13h-3.5z" fill="#ff0000"/>
<path d="M253.1,496.15h13v3.5h-13zM257.85,491.1h3.5v13h-3.5z" fill="#ff0000"/>
<path d="M253.1,512.15h13v3.5h-13zM257.85,507.1h3.5v13h-3.5z" fill="#ff0000"/>
<path d="M317.1,512.15h13v3.5h-13zM321.85,507.1h3.5v13h-3.5z" fill="#ff0000"/>
<path d="M253.1,528.15h13v3.5h-13zM257.85,523.1h3.5v13h-3.5z" fill="#ff0000"/>
<path d="M333.1,528.15h13v3.5h-13zM337.85,523.1h3.5v13h-3.5z" fill="#ff0000"/>
<path d="M45.1,544.15h13v3.5h-13zM49.85,539.1h3.5v13h-3.5z" fill="#ff0000"/>
<path d="M317.1,544.15h13v3.5h-13zM321.85,539.1h3.5v13h-3.5z" fill="#ff0000"/>
<path d="M333.1,544.15h13v3.5h-13zM337.85,539.1h3.5v13h-3.5z" fill="#ff0000"/>
<path d="M173.1,608.15h13v3.5h-13zM177.85,603.1h3.5v13h-3.5z" fill="#ff0000"/>
<path d="M189.1,608.15h13v3.5h-13zM193.85,603.1h3.5v13h-3.5z" fill="#ff0000"/>
<path d="M61.1,640.15h13v3.5h-13zM65.85,635.1h3.5v13h-3.5z" fill="#ff0000"/>
<path d="M77.1,640.15h13v3.5h-13zM81.85,635.1h3.5v13h-3.5z" fill="#ff0000"/>
<path d="M109.1,656.15h13v3.5h-13zM113.85,651.1h3.5v13h-3.5z" fill="#ff0000"/>
<line x1="59.5" y1="35" x2="59.5" y2="726" stroke="#000" stroke-width="1" stroke-dasharray="3 3"/>
<line x1="139.5" y1="35" x2="139.5" y2="726" stroke="#000" stroke-width="1" stroke-dasharray="3 3"/>
<line x1="219.5" y1="35" x2="219.5" y2="726" stroke="#000" stroke-width="1" stroke-dasharray="3 3"/>
<line x1="299.5" y1="35" x2="299.5" y2="726" stroke="#000" stroke-width="1" stroke-dasharray="3 3"/>
<line x1="379.5" y1="35" x2="379.5" y2="726" stroke="#000" stroke-width="1" stroke-dasharray="3 3"/>
<line x1="539.5" y1="35" x2="539.5" y2="726" stroke="#000" stroke-width="1" stroke-dasharray="3 3"/>
<line x1="619.5" y1="35" x2="619.5" y2="726" stroke="#000" stroke-width="1" stroke-dasharray="3 3"/>
<line x1="3" y1="89.5" x2="673" y2="89.5" stroke="#000" stroke-width="1" stroke-dasharray="3 3"/>
<line x1="3" y1="249.5" x2="673" y2="249.5" stroke="#000" stroke-width="1" stroke-dasharray="3 3"/>
<line x1="3" y1="329.5" x2="673" y2="329.5" stroke="#000" stroke-width="1" stroke-dasharray="3 3"/>
<line x1="3" y1="409.5" x2="673" y2="409.5" stroke="#000" stroke-width="1" stroke-dasharray="3 3"/>
<line x1="3" y1="489.5" x2="673" y2="489.5" stroke="#000" stroke-width="1" stroke-dasharray="3 3"/>
<line x1="3" y1="569.5" x2="673" y2="569.5" stroke="#000" stroke-width="1" stroke-dasharray="3 3"/>
<line x1="3" y1="649.5" x2="673" y2="649.5" stroke="#000" stroke-width="1" stroke-dasharray="3 3"/>
<line x1="460" y1="33" x2="460" y2="727" stroke="#000" stroke-width="2"/>
<line x1="3" y1="170" x2="674" y2="170" stroke="#000" stroke-width="2"/>
<rect x="3" y="33" width="671" height="694" fill="none" stroke="#000" stroke-width="2"/>
<rect x="682.5" y="409.5" width="438" height="318" fill="none" stroke="#000" stroke-width="1"/>
<line x1="682" y1="690.5" x2="1120" y2="690.5" stroke="#000" stroke-width="1"/>
<line x1="718.5" y1="690" x2="718.5" y2="698" stroke="#000" stroke-width="1"/>
<line x1="755.5" y1="690" x2="755.5" y2="698" stroke="#000" stroke-width="1"/>
<line x1="791.5" y1="690" x2="791.5" y2="698" stroke="#000" stroke-width="1"/>
<line x1="828.5" y1="690" x2="828.5" y2="698" stroke="#000" stroke-width="1"/>
<line x1="864.5" y1="690" x2="864.5" y2="698" stroke="#000" stroke-width="1"/>
<line x1="901.5" y1="690" x2="901.5" y2="698" stroke="#000" stroke-width="1"/>
<line x1="937.5" y1="690" x2="937.5" y2="698" stroke="#000" stroke-width="1"/>
<line x1="974.5" y1="690" x2="974.5" y2="698" stroke="#000" stroke-width="1"/>
<line x1="1010.5" y1="690" x2="1010.5" y2="698" stroke="#000" stroke-width="1"/>
<line x1="1047.5" y1="690" x2="1047.5" y2="698" stroke="#000" stroke-width="1"/>
<line x1="1083.5" y1="690" x2="1083.5" y2="698" stroke="#000" stroke-width="1"/>
<path d="M867.5,690 V679.5 H876.5 V690 M876.5,690 V595.5 H884.5 V690 M884.5,690 V517.5 H893.5 V690 M893.5,690 V466.5 H901.5 V690 M901.5,690 V472.5 H909.5 V690 M909.5,690 V460.5 H918.5 V690 M918.5,690 V449.5 H926.5 V690 M926.5,690 V545.5 H935.5 V690 M935.5,690 V640.5 H943.5 V690 M943.5,690 V668.5 H952.5 V690 M952.5,690 V685.5 H960.5 V690 M968.5,690 V685.5 H977.5 V690" fill="none" stroke="#000" stroke-width="1"/>
</svg>
<div class="t s24" style="left:3px;top:1px">39.001 Blastodacna hellerella (a moth)</div>
<div class="t s24 red" style="left:10px;top:37px">SK</div>
<div class="t s24 red" style="left:462px;top:37px">TF</div>
<div class="t s24 red" style="left:10px;top:655px">SP</div>
<div class="t s24 red" style="left:466px;top:653px">TL</div>
<div class="t s21" style="left:11px;top:66px">1</div>
<div class="t s21" style="left:11px;top:146px">0</div>
<div class="t s21" style="left:11px;top:226px">9</div>
<div class="t s21" style="left:11px;top:306px">8</div>
<div class="t s21" style="left:11px;top:386px">7</div>
<div class="t s21" style="left:11px;top:466px">6</div>
<div class="t s21" style="left:11px;top:546px">5</div>
<div class="t s21" style="left:11px;top:626px">4</div>
<div class="t s21" style="left:67px;top:703px">5</div>
<div class="t s21" style="left:147px;top:703px">6</div>
<div class="t s21" style="left:227px;top:703px">7</div>
<div class="t s21" style="left:307px;top:703px">8</div>
<div class="t s21" style="left:387px;top:703px">9</div>
<div class="t s21" style="left:467px;top:703px">0</div>
<div class="t s21" style="left:547px;top:703px">1</div>
<div class="t s21" style="left:627px;top:703px">2</div>
<div class="t s35" style="left:678px;top:36px">Key:</div>
<svg width="1125" height="731" style="pointer-events:none">
<rect x="687.2" y="80.2" width="12.6" height="12.6" fill="#12c2f2"/>
<circle cx="694.6" cy="116.4" r="6.9" fill="#ffff00"/>
<path d="M688,143.3h13v4.2h-13zM692.4,139h4.2v13h-4.2z" fill="#ee0000"/>
</svg>
<div class="t s21" style="left:710px;top:76px">Records Prior to 1980</div>
<div class="t s21" style="left:710px;top:105px">Records 1980 - 1999</div>
<div class="t s21" style="left:710px;top:134px">Records Since 2000</div>
<div class="t s35" style="left:682px;top:175px">Useful Data:</div>
<div class="t s21" style="left:682px;top:214px">First Recorded in 1938</div>
<div class="t s21" style="left:682px;top:241px">Last Recorded in 2023</div>
<div class="t s21" style="left:682px;top:269px">257 Records</div>
<div class="t s21" style="left:682px;top:296px">Status: Common</div>
<div class="t s35" style="left:683px;top:368px">Flight Period:</div>
<div class="m" style="left:690.5px;top:418px">Records max of 43 in week 29</div>
<div class="m" style="left:691px;top:702px">Jan</div>
<div class="m" style="left:727px;top:702px">Feb</div>
<div class="m" style="left:764px;top:702px">Mar</div>
<div class="m" style="left:800px;top:702px">Apr</div>
<div class="m" style="left:837px;top:702px">May</div>
<div class="m" style="left:873px;top:702px">Jun</div>
<div class="m" style="left:910px;top:702px">Jly</div>
<div class="m" style="left:946px;top:702px">Aug</div>
<div class="m" style="left:983px;top:702px">Sep</div>
<div class="m" style="left:1019px;top:702px">Oct</div>
<div class="m" style="left:1056px;top:702px">Nov</div>
<div class="m" style="left:1092px;top:702px">Dec</div>
</body></html>
